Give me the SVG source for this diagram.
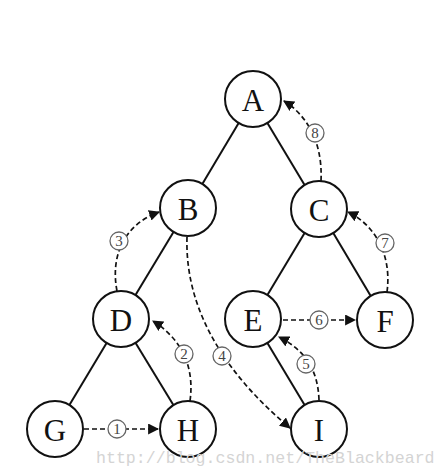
<svg xmlns="http://www.w3.org/2000/svg" width="447" height="474" viewBox="0 0 447 474">
<defs>
<marker id="ah" viewBox="0 0 10 10" refX="9" refY="5" markerWidth="11" markerHeight="11" markerUnits="userSpaceOnUse" orient="auto">
<path d="M0,0 L10,5 L0,10 z" fill="#111"/>
</marker>
</defs>
<style>
.node circle{fill:#fff;stroke:#111;stroke-width:2}
.node text{font-family:"Liberation Serif","DejaVu Serif",serif;font-size:31px;fill:#111;text-anchor:middle;dominant-baseline:central}
.edge{stroke:#111;stroke-width:2;fill:none}
.dash{stroke:#111;stroke-width:1.7;fill:none;stroke-dasharray:5 3;marker-end:url(#ah)}
.lbl circle{fill:#fff;stroke:#666;stroke-width:1.3}
.lbl text{font-family:"Liberation Serif","DejaVu Serif",serif;font-size:15px;fill:#444;text-anchor:middle;dominant-baseline:central}
.wm{font-family:"Liberation Mono","DejaVu Sans Mono",monospace;font-size:16.6px;fill:#d4d4d4}
</style>
<rect width="447" height="474" fill="#fff"/>
<g id="connectors">
<line class="edge" x1="253" y1="99" x2="188" y2="208"/>
<line class="edge" x1="253" y1="99" x2="319" y2="209"/>
<line class="edge" x1="188" y1="208" x2="121" y2="319"/>
<line class="edge" x1="319" y1="209" x2="253" y2="319"/>
<line class="edge" x1="319" y1="209" x2="385" y2="320"/>
<line class="edge" x1="121" y1="319" x2="55" y2="429"/>
<line class="edge" x1="121" y1="319" x2="188" y2="429"/>
<line class="edge" x1="253" y1="319" x2="319" y2="429"/>
<line class="dash" x1="84" y1="429" x2="158" y2="429"/>
<path class="dash" d="M190,401 C195,365 180,338 153,321"/>
<path class="dash" d="M117,291 C110,255 125,224 159,212"/>
<path class="dash" d="M187,237 C185,300 215,365 290,428"/>
<path class="dash" d="M319,400 C318,370 305,350 279,337"/>
<line class="dash" x1="283" y1="320" x2="355" y2="320"/>
<path class="dash" d="M387,292 C392,255 375,225 348,212"/>
<path class="dash" d="M321,181 C323,140 305,114 284,101"/>
<g class="lbl"><circle cx="117" cy="429" r="9"/><text x="117" y="429">1</text></g>
<g class="lbl"><circle cx="184" cy="354" r="9"/><text x="184" y="354">2</text></g>
<g class="lbl"><circle cx="119" cy="241" r="9"/><text x="119" y="241">3</text></g>
<g class="lbl"><circle cx="222" cy="356" r="9"/><text x="222" y="356">4</text></g>
<g class="lbl"><circle cx="306" cy="364" r="9"/><text x="306" y="364">5</text></g>
<g class="lbl"><circle cx="319" cy="320" r="9"/><text x="319" y="320">6</text></g>
<g class="lbl"><circle cx="385" cy="243" r="9"/><text x="385" y="243">7</text></g>
<g class="lbl"><circle cx="315" cy="133" r="9"/><text x="315" y="133">8</text></g>
</g>
<g id="A" class="node"><circle cx="253" cy="99" r="28"/><text x="253" y="100">A</text></g>
<g id="B" class="node"><circle cx="188" cy="208" r="28"/><text x="188" y="209">B</text></g>
<g id="C" class="node"><circle cx="319" cy="209" r="28"/><text x="319" y="210">C</text></g>
<g id="D" class="node"><circle cx="121" cy="319" r="28"/><text x="121" y="320">D</text></g>
<g id="E" class="node"><circle cx="253" cy="319" r="28"/><text x="253" y="320">E</text></g>
<g id="F" class="node"><circle cx="385" cy="320" r="28"/><text x="385" y="321">F</text></g>
<g id="G" class="node"><circle cx="55" cy="429" r="28"/><text x="55" y="430">G</text></g>
<g id="H" class="node"><circle cx="188" cy="429" r="28"/><text x="188" y="430">H</text></g>
<g id="I" class="node"><circle cx="319" cy="429" r="28"/><text x="319" y="430">I</text></g>
<text class="wm" x="96" y="463">http://blog.csdn.net/TheBlackbeard</text>
</svg>
